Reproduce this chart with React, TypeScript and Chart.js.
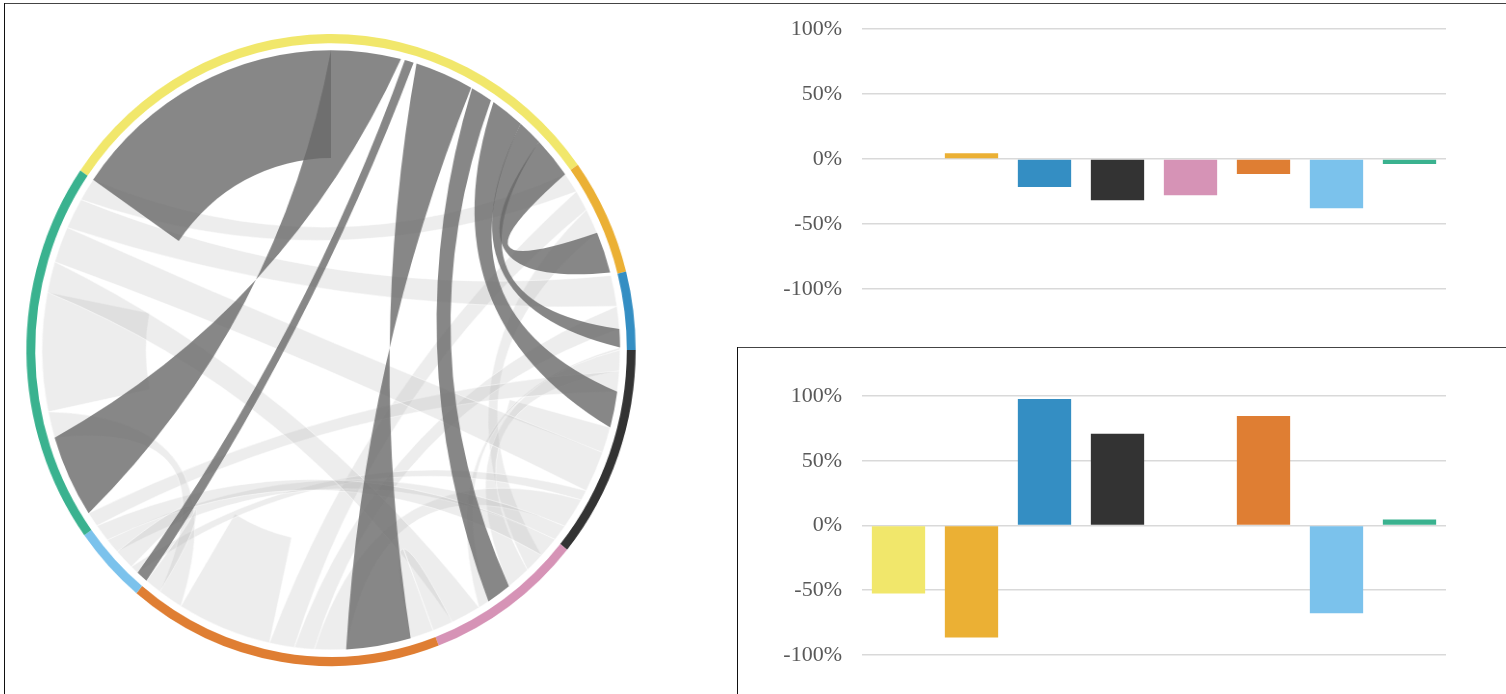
import React, { useEffect, useRef } from 'react';
import { Chart, registerables } from 'chart.js';

Chart.register(...registerables);

// ---------- data ----------
const groupLabels = ['A', 'B', 'C', 'D', 'E', 'F', 'G', 'H'];
const groupColors = ['#F1E76B', '#EBB034', '#348EC3', '#333333', '#D693B6', '#DF7E33', '#7BC2EC', '#3AB28F'];
// size of each group on the ring (sums to 360)
const groupValues = [109.5, 21.5, 14.4, 39.2, 30.1, 60.4, 14.4, 70.5];
const ringRotation = -55.4;

// links: [fromGroup, fromStart, fromEnd, toGroup, toStart, toEnd] (in group value units)
// a target range given high-to-low is drawn as a crossed ribbon
const highlightLinks = [
  [0, 55.4, 69.4, 7, 18.9, 2.9],
  [0, 70.2, 72.0, 6, 0, 2.3],
  [0, 72.6, 84.4, 5, 17.7, 4.7],
  [0, 84.6, 89.0, 4, 12.8, 17.8],
  [0, 89.6, 96.4, 3, 8, 15],
  [0, 96.4, 101.4, 2, 10.4, 13.9],
  [0, 101.4, 109.5, 1, 12.9, 20.9],
];
const highlightSelf = [[0, 0, 55.4]];

const backgroundLinks = [
  [1, 0, 4, 7, 66, 70.5],
  [1, 4, 8, 5, 28, 33],
  [1, 8, 12.9, 4, 4, 8],
  [2, 0, 6, 7, 60, 66],
  [2, 6, 10.4, 5, 24, 28],
  [2, 13.9, 14.4, 4, 17.8, 20],
  [3, 0, 4, 4, 8, 12.8],
  [3, 4, 8, 7, 0, 2.9],
  [3, 20, 28, 7, 53, 60],
  [3, 28, 30, 6, 2.3, 4],
  [3, 30, 36, 5, 17.7, 24],
  [3, 36, 39.2, 6, 8, 11],
  [4, 0, 4, 6, 11, 14.4],
  [4, 20, 26, 7, 47, 53],
  [4, 26, 30.1, 5, 0, 4.7],
  [5, 52, 57, 7, 18.9, 24],
  [5, 57, 60.4, 6, 4, 8],
];
const backgroundSelf = [[3, 15, 20], [5, 33, 52], [7, 24, 47]];

const barCategories = groupLabels;
const topBarValues = [0, 4.5, -21.6, -31.7, -27.8, -11.6, -37.8, -3.9];
const bottomBarValues = [-52.5, -86.5, 97.7, 70.8, 0, 84.6, -67.7, 4.6];
const yMin = -100;
const yMax = 100;
const yStep = 50;

// ---------- chord plugin ----------
const linkTension = 0.42;
const selfInner = 0.64;

const chordPlugin = {
  id: 'chords',
  afterDatasetsDraw(chart: any) {
    const meta = chart.getDatasetMeta(0);
    const arcs = meta.data;
    if (!arcs || !arcs.length) return;
    const ctx = chart.ctx;
    const cx = arcs[0].x;
    const cy = arcs[0].y;
    const r = arcs[0].innerRadius - 7;
    const ang = (g: number, v: number) => {
      const a = arcs[g];
      return a.startAngle + ((a.endAngle - a.startAngle) * v) / groupValues[g];
    };
    const pt = (t: number) => [cx + r * Math.cos(t), cy + r * Math.sin(t)];
    const curveTo = (a: number, b: number) => {
      const p = pt(a);
      const q = pt(b);
      const mx = (p[0] + q[0]) / 2 - cx;
      const my = (p[1] + q[1]) / 2 - cy;
      ctx.quadraticCurveTo(cx + mx * linkTension, cy + my * linkTension, q[0], q[1]);
    };
    const ribbon = (l: number[]) => {
      const s0 = ang(l[0], l[1]);
      const s1 = ang(l[0], l[2]);
      const t0 = ang(l[3], l[4]);
      const t1 = ang(l[3], l[5]);
      ctx.beginPath();
      ctx.arc(cx, cy, r, s0, s1, s1 < s0);
      curveTo(s1, t0);
      ctx.arc(cx, cy, r, t0, t1, t1 < t0);
      curveTo(t1, s0);
      ctx.closePath();
    };
    const sector = (l: number[]) => {
      const s0 = ang(l[0], l[1]);
      const s1 = ang(l[0], l[2]);
      ctx.beginPath();
      ctx.arc(cx, cy, r, s0, s1);
      ctx.arc(cx, cy, r * selfInner, s1, s0, true);
      ctx.closePath();
    };
    ctx.save();
    ctx.fillStyle = 'rgba(185,185,185,0.25)';
    ctx.strokeStyle = 'rgba(255,255,255,0.7)';
    ctx.lineWidth = 0.7;
    backgroundSelf.forEach((l) => { sector(l); ctx.fill(); ctx.stroke(); });
    backgroundLinks.forEach((l) => { ribbon(l); ctx.fill(); ctx.stroke(); });
    ctx.fillStyle = 'rgba(105,105,105,0.8)';
    highlightSelf.forEach((l) => { sector(l); ctx.fill(); });
    highlightLinks.forEach((l) => { ribbon(l); ctx.fill(); });
    ctx.restore();
  },
};

function ChordChart() {
  const ref = useRef<HTMLCanvasElement>(null);
  useEffect(() => {
    if (!ref.current) return;
    const chart = new Chart(ref.current, {
      type: 'doughnut',
      data: {
        labels: groupLabels,
        datasets: [
          {
            data: groupValues,
            backgroundColor: groupColors,
            borderWidth: 0,
          },
        ],
      },
      options: {
        animation: false,
        responsive: false,
        events: [],
        rotation: ringRotation,
        radius: 316,
        cutout: '97.1%',
        layout: { padding: 0 },
        plugins: { legend: { display: false }, tooltip: { enabled: false } },
      },
      plugins: [chordPlugin],
    } as any);
    return () => chart.destroy();
  }, []);
  return (
    <canvas
      ref={ref}
      width={662}
      height={662}
      style={{
        position: 'fixed',
        left: 0,
        top: 19,
        width: 662,
        height: 662,
        transform: 'scaleX(0.964)',
        transformOrigin: '331px 331px',
      }}
    />
  );
}

function BarChart({ values, top, height, padTop, padBottom }: any) {
  const ref = useRef<HTMLCanvasElement>(null);
  useEffect(() => {
    if (!ref.current) return;
    const chart = new Chart(ref.current, {
      type: 'bar',
      data: {
        labels: barCategories,
        datasets: [
          {
            data: values,
            backgroundColor: groupColors,
            borderWidth: 0,
            barPercentage: 0.73,
            categoryPercentage: 1.0,
          },
        ],
      },
      options: {
        animation: false,
        responsive: false,
        events: [],
        layout: { padding: { top: padTop, bottom: padBottom, left: 0, right: 60 } },
        plugins: { legend: { display: false }, tooltip: { enabled: false } },
        scales: {
          x: { display: false },
          y: {
            min: yMin,
            max: yMax,
            afterFit: (scale: any) => { scale.width = 122; },
            ticks: {
              stepSize: yStep,
              padding: 20,
              color: '#595959',
              font: { family: '"Liberation Serif", "Times New Roman", serif', size: 22 },
              callback: (v: any) => v + '%',
            },
            grid: { color: '#D9D9D9', lineWidth: 1.6, drawTicks: false },
            border: { display: false },
          },
        },
      },
    } as any);
    return () => chart.destroy();
  }, []);
  return (
    <canvas
      ref={ref}
      width={766}
      height={height}
      style={{ position: 'fixed', left: 740, top, width: 766, height }}
    />
  );
}

export default function App() {
  return (
    <div>
      <ChordChart />
      <BarChart values={topBarValues} top={-12} height={352} padTop={41} padBottom={51} />
      <BarChart values={bottomBarValues} top={348} height={346} padTop={48} padBottom={39} />
      <div style={{ position: 'fixed', left: 4, top: 3, width: 1502, height: 0, borderTop: '1.5px solid #444' }} />
      <div style={{ position: 'fixed', left: 4, top: 3, width: 0, height: 691, borderLeft: '1.5px solid #111' }} />
      <div style={{ position: 'fixed', left: 737, top: 347, width: 769, height: 0, borderTop: '1.5px solid #444' }} />
      <div style={{ position: 'fixed', left: 737, top: 347, width: 0, height: 347, borderLeft: '1.5px solid #111' }} />
    </div>
  );
}
